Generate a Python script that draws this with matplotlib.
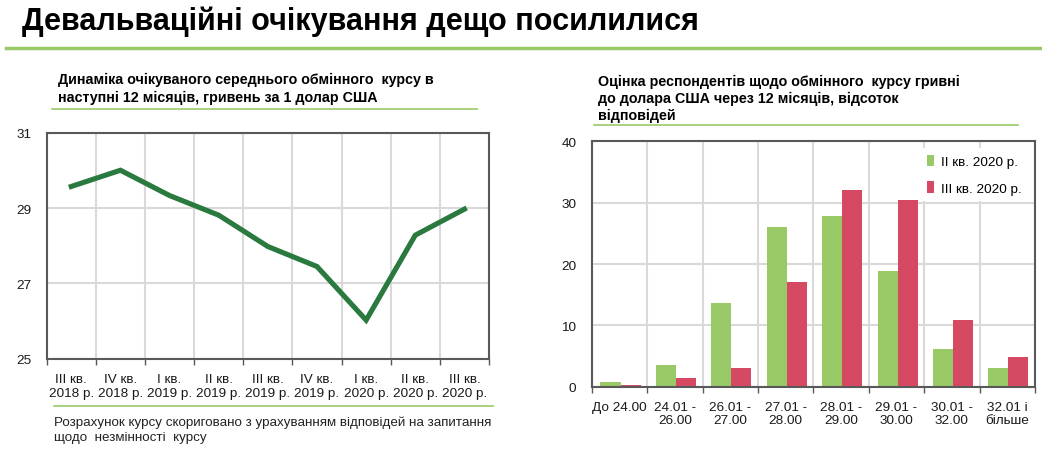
import matplotlib.pyplot as plt
from matplotlib.lines import Line2D
import numpy as np

plt.rcParams['font.family'] = ['Liberation Sans', 'DejaVu Sans']

# left chart data
quarters = ['III кв.\n2018 р.', 'IV кв.\n2018 р.', 'I кв.\n2019 р.', 'II кв.\n2019 р.',
            'III кв.\n2019 р.', 'IV кв.\n2019 р.', 'I кв.\n2020 р.', 'II кв.\n2020 р.',
            'III кв.\n2020 р.']
expected_rate = [29.57, 30.0, 29.33, 28.81, 27.98, 27.45, 26.03, 28.28, 28.97]

# right chart data
ranges = ['До 24.00', '24.01 -\n26.00', '26.01 -\n27.00', '27.01 -\n28.00',
          '28.01 -\n29.00', '29.01 -\n30.00', '30.01 -\n32.00', '32.01 і\nбільше']
q2_2020 = [0.7, 3.5, 13.7, 26.0, 27.8, 18.9, 6.1, 3.1]
q3_2020 = [0.3, 1.4, 3.1, 17.0, 32.1, 30.4, 10.9, 4.8]

GREEN_LINE = '#2a7a3f'
LIGHT_GREEN = '#99c966'
RED = '#d54a62'
GRID = '#d9d9d9'
SPINE = '#595959'

fig = plt.figure(figsize=(10.42, 4.6), dpi=100)

def px(x, y):
    return x / 1042, 1 - y / 460

# header
fig.text(*px(22, 22), 'Девальваційні очікування дещо посилилися', fontsize=22,
         fontweight='bold', va='center', ha='left', color='black')
fig.add_artist(Line2D([6 / 1042, 1], [1 - 48.5 / 460] * 2, color=LIGHT_GREEN, lw=2.5))

# subtitles
fig.text(*px(58, 89), 'Динаміка очікуваного середнього обмінного  курсу в\nнаступні 12 місяців, гривень за 1 долар США',
         fontsize=10.3, fontweight='bold', va='center', ha='left', linespacing=1.3)
fig.add_artist(Line2D([52 / 1042, 477 / 1042], [1 - 110 / 460] * 2, color=LIGHT_GREEN, lw=1.2))
fig.text(*px(598, 99), 'Оцінка респондентів щодо обмінного  курсу гривні\nдо долара США через 12 місяців, відсоток\nвідповідей',
         fontsize=10.3, fontweight='bold', va='center', ha='left', linespacing=1.3)
fig.add_artist(Line2D([594 / 1042, 1018 / 1042], [1 - 126 / 460] * 2, color=LIGHT_GREEN, lw=1.2))


def style_axes(ax, n):
    ax.set_xlim(-0.5, n - 0.5)
    ax.set_xticks(np.arange(n))
    ax.set_xticks(np.arange(n + 1) - 0.5, minor=True)
    ax.tick_params(axis='x', which='major', length=0, pad=10)
    ax.tick_params(axis='x', which='minor', length=4, color=SPINE, width=1)
    ax.tick_params(axis='y', length=0, pad=11)
    ax.tick_params(labelsize=9.7, labelcolor='#1a1a1a')
    ax.grid(True, which='minor', axis='x', color=GRID, lw=1.5)
    ax.grid(True, which='major', axis='y', color=GRID, lw=1.5)
    ax.set_axisbelow(True)
    for s in ax.spines.values():
        s.set_color(SPINE)
        s.set_linewidth(1.5)


# left: line chart
ax1 = fig.add_axes([46.7 / 1042, 100 / 460, 442.3 / 1042, 226.5 / 460])
style_axes(ax1, len(quarters))
ax1.plot(range(len(quarters)), expected_rate, color=GREEN_LINE, lw=3.7, solid_joinstyle='miter')
ax1.set_ylim(25, 31)
ax1.set_yticks([25, 27, 29, 31])
ax1.set_xticklabels(quarters, fontsize=9.7, linespacing=1.2)

fig.add_artist(Line2D([54 / 1042, 493 / 1042], [1 - 407 / 460] * 2, color=LIGHT_GREEN, lw=1.2))
fig.text(*px(54, 430), 'Розрахунок курсу скориговано з урахуванням відповідей на запитання\nщодо  незмінності  курсу',
         fontsize=9.6, va='center', ha='left', color='#222222', linespacing=1.3)

# right: grouped bars
ax2 = fig.add_axes([591.7 / 1042, 72.3 / 460, 443.3 / 1042, 245.4 / 460])
style_axes(ax2, len(ranges))
x = np.arange(len(ranges))
w = 0.362
ax2.bar(x - w / 2 + 0.02, q2_2020, w, color=LIGHT_GREEN, label='II кв. 2020 р.')
ax2.bar(x + w / 2 + 0.02, q3_2020, w, color=RED, label='III кв. 2020 р.')
ax2.set_ylim(0, 40)
ax2.set_yticks([0, 10, 20, 30, 40])
ax2.set_xticklabels(ranges, fontsize=9.7, linespacing=1.2)
leg = ax2.legend(loc='upper right', bbox_to_anchor=(1.0, 1.0), frameon=True, fontsize=9.7,
                 handlelength=0.5, handleheight=0.9, handletextpad=0.5, labelspacing=1.0,
                 borderpad=0.5, fancybox=False)
leg.get_frame().set_edgecolor('none')
leg.get_frame().set_facecolor('white')
leg.get_frame().set_alpha(1)

plt.savefig('out.png', format='png', dpi=100)
